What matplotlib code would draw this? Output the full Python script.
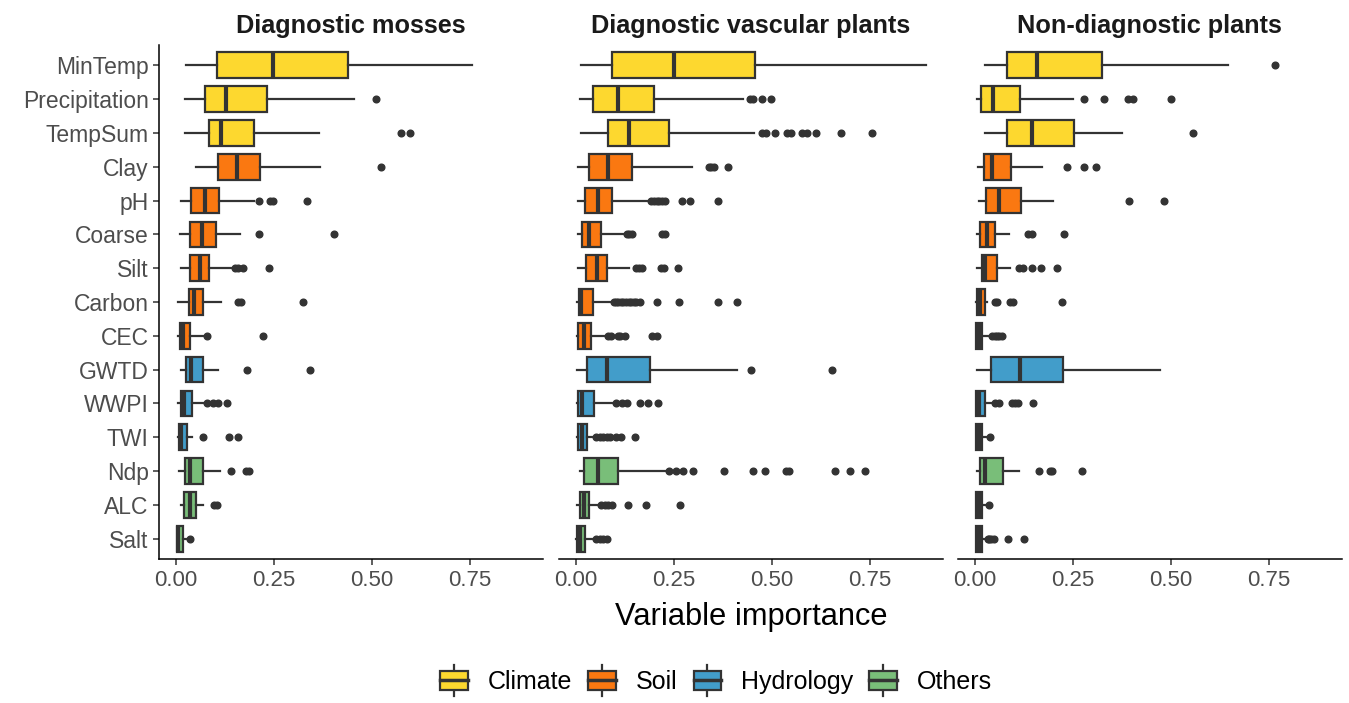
import matplotlib
matplotlib.use("Agg")
import matplotlib.pyplot as plt
from matplotlib.patches import Rectangle
from matplotlib.lines import Line2D
from matplotlib.legend_handler import HandlerBase

plt.rcParams['font.family'] = ['Liberation Sans', 'DejaVu Sans']

variables = ["MinTemp", "Precipitation", "TempSum", "Clay", "pH", "Coarse", "Silt",
             "Carbon", "CEC", "GWTD", "WWPI", "TWI", "Ndp", "ALC", "Salt"]
groups = ["Climate"] * 3 + ["Soil"] * 6 + ["Hydrology"] * 3 + ["Others"] * 3
group_names = ["Climate", "Soil", "Hydrology", "Others"]
group_colors = {"Climate": "#FDD82F", "Soil": "#FA7811",
                "Hydrology": "#429DCA", "Others": "#79BE79"}
panel_titles = ["Diagnostic mosses", "Diagnostic vascular plants", "Non-diagnostic plants"]

# Diagnostic mosses
moss_whislo = [0.026, 0.023, 0.023, 0.051, 0.012, 0.010, 0.014, 0.006, 0.006, 0.014, 0.006, 0.006, 0.008, 0.012, 0.002]
moss_q1 = [0.104, 0.075, 0.083, 0.106, 0.038, 0.037, 0.037, 0.033, 0.010, 0.026, 0.012, 0.008, 0.024, 0.020, 0.002]
moss_med = [0.247, 0.128, 0.116, 0.156, 0.075, 0.066, 0.060, 0.045, 0.019, 0.038, 0.021, 0.014, 0.037, 0.036, 0.006]
moss_q3 = [0.440, 0.232, 0.200, 0.214, 0.109, 0.102, 0.084, 0.068, 0.037, 0.068, 0.040, 0.027, 0.068, 0.051, 0.019]
moss_whishi = [0.756, 0.453, 0.366, 0.368, 0.199, 0.163, 0.150, 0.115, 0.070, 0.106, 0.070, 0.040, 0.112, 0.070, 0.028]
moss_out = [[], [0.511], [0.575, 0.597], [0.522], [0.213, 0.241, 0.248, 0.333],
            [0.212, 0.403], [0.151, 0.159, 0.170, 0.237], [0.157, 0.165, 0.325],
            [0.080, 0.221], [0.182, 0.342], [0.078, 0.095, 0.108, 0.131],
            [0.068, 0.136, 0.157], [0.140, 0.179, 0.187], [0.097, 0.104], [0.037]]

# Diagnostic vascular plants
vasc_whislo = [0.012, 0.010, 0.013, 0.006, 0.004, 0.004, 0.006, 0.002, 0.002, 0.003, 0.002, 0.002, 0.009, 0.002, 0.001]
vasc_q1 = [0.093, 0.043, 0.081, 0.033, 0.023, 0.016, 0.026, 0.007, 0.004, 0.027, 0.005, 0.004, 0.020, 0.009, 0.002]
vasc_med = [0.250, 0.106, 0.136, 0.081, 0.055, 0.033, 0.053, 0.013, 0.021, 0.080, 0.016, 0.016, 0.055, 0.020, 0.010]
vasc_q3 = [0.457, 0.200, 0.237, 0.144, 0.091, 0.064, 0.078, 0.044, 0.038, 0.188, 0.046, 0.027, 0.108, 0.034, 0.024]
vasc_whishi = [0.892, 0.425, 0.455, 0.295, 0.189, 0.121, 0.136, 0.091, 0.078, 0.411, 0.100, 0.048, 0.236, 0.061, 0.048]
vasc_out = [[], [0.444, 0.452, 0.474, 0.497],
            [0.474, 0.485, 0.507, 0.537, 0.548, 0.576, 0.589, 0.612, 0.676, 0.754],
            [0.338, 0.345, 0.352, 0.387],
            [0.191, 0.198, 0.206, 0.213, 0.219, 0.226, 0.270, 0.291, 0.361],
            [0.129, 0.135, 0.142, 0.219, 0.226],
            [0.153, 0.160, 0.168, 0.217, 0.225, 0.259],
            [0.096, 0.102, 0.108, 0.115, 0.121, 0.128, 0.134, 0.141, 0.147, 0.154, 0.162,
             0.206, 0.262, 0.363, 0.410],
            [0.082, 0.090, 0.107, 0.113, 0.126, 0.193, 0.206],
            [0.446, 0.652],
            [0.103, 0.117, 0.130, 0.163, 0.184, 0.209],
            [0.052, 0.061, 0.069, 0.078, 0.086, 0.103, 0.116, 0.150],
            [0.236, 0.256, 0.273, 0.298, 0.378, 0.451, 0.483, 0.536, 0.544, 0.661, 0.700, 0.738],
            [0.065, 0.074, 0.082, 0.091, 0.132, 0.179, 0.265],
            [0.052, 0.061, 0.069, 0.078]]

# Non-diagnostic plants
nond_whislo = [0.026, 0.004, 0.026, 0.007, 0.011, 0.004, 0.006, 0.003, 0.002, 0.004, 0.002, 0.002, 0.006, 0.002, 0.002]
nond_q1 = [0.082, 0.015, 0.082, 0.023, 0.028, 0.014, 0.017, 0.004, 0.002, 0.040, 0.003, 0.002, 0.013, 0.002, 0.002]
nond_med = [0.157, 0.047, 0.145, 0.044, 0.060, 0.030, 0.026, 0.014, 0.009, 0.115, 0.011, 0.009, 0.026, 0.009, 0.009]
nond_q3 = [0.325, 0.115, 0.253, 0.093, 0.117, 0.051, 0.057, 0.026, 0.017, 0.224, 0.026, 0.019, 0.071, 0.017, 0.019]
nond_whishi = [0.645, 0.249, 0.374, 0.170, 0.200, 0.087, 0.089, 0.031, 0.032, 0.472, 0.043, 0.030, 0.111, 0.027, 0.028]
nond_out = [[0.764], [0.279, 0.330, 0.391, 0.404, 0.500], [0.557], [0.234, 0.278, 0.308],
            [0.392, 0.481], [0.136, 0.145, 0.227], [0.112, 0.123, 0.146, 0.168, 0.208],
            [0.051, 0.055, 0.090, 0.098, 0.222], [0.043, 0.050, 0.055, 0.062, 0.070], [],
            [0.051, 0.060, 0.094, 0.102, 0.110, 0.149], [0.038],
            [0.162, 0.192, 0.196, 0.273], [0.036],
            [0.032, 0.036, 0.040, 0.049, 0.084, 0.124]]

panels = [
    (moss_whislo, moss_q1, moss_med, moss_q3, moss_whishi, moss_out),
    (vasc_whislo, vasc_q1, vasc_med, vasc_q3, vasc_whishi, vasc_out),
    (nond_whislo, nond_q1, nond_med, nond_q3, nond_whishi, nond_out),
]

DARK = "#333333"
W, H = 1349, 703
fig = plt.figure(figsize=(W / 100, H / 100), dpi=100)

ax_left = [158.5, 558.5, 957.5]
ax_w = 384.7
ax_top, ax_bot = 45, 559

positions = list(range(1, len(variables) + 1))
for i, (wlo, q1, med, q3, whi, out) in enumerate(panels):
    ax = fig.add_axes([ax_left[i] / W, 1 - ax_bot / H, ax_w / W, (ax_bot - ax_top) / H])
    stats = []
    for j in range(len(variables)):
        stats.append(dict(whislo=wlo[j], q1=q1[j], med=med[j], q3=q3[j],
                          whishi=whi[j], fliers=out[j]))
    bp = ax.bxp(stats, positions=positions, orientation='horizontal', widths=0.76,
                patch_artist=True, showcaps=False,
                boxprops=dict(edgecolor=DARK, linewidth=1.6),
                whiskerprops=dict(color=DARK, linewidth=1.6),
                medianprops=dict(color=DARK, linewidth=3.0, solid_capstyle='butt'),
                flierprops=dict(marker='o', markerfacecolor=DARK, markeredgecolor=DARK,
                                markersize=4.8, linestyle='none'))
    for box, g in zip(bp['boxes'], groups):
        box.set_facecolor(group_colors[g])
    ax.set_xlim(-0.0446, 0.9366)
    ax.set_ylim(len(variables) + 0.6, 0.4)
    ax.set_xticks([0, 0.25, 0.5, 0.75])
    ax.set_xticklabels(["0.00", "0.25", "0.50", "0.75"])
    for s in ["top", "right"]:
        ax.spines[s].set_visible(False)
    ax.spines["bottom"].set_linewidth(1.1)
    ax.spines["left"].set_linewidth(1.1)
    ax.tick_params(axis='x', length=4, width=1.1, color=DARK, labelsize=16,
                   labelcolor="#4D4D4D", pad=4)
    if i == 0:
        ax.set_yticks(positions)
        ax.set_yticklabels(variables)
        ax.tick_params(axis='y', length=4, width=1.1, color=DARK, labelsize=16.5,
                       labelcolor="#4D4D4D", pad=3)
    else:
        ax.spines["left"].set_visible(False)
        ax.set_yticks([])
    ax.set_title(panel_titles[i], fontsize=18.2, fontweight='bold', pad=9, color="#1A1A1A")

fig.text(751 / W, 1 - 617 / H, "Variable importance", ha='center', va='center', fontsize=22.2)


class BoxKey(HandlerBase):
    def create_artists(self, legend, orig_handle, xdescent, ydescent, width, height,
                       fontsize, trans):
        color = orig_handle.get_facecolor()
        cx = width / 2 - xdescent
        cy = height / 2 - ydescent
        bh = height * 1.0
        rect = Rectangle((-xdescent, cy - bh / 2), width, bh, facecolor=color,
                         edgecolor=DARK, linewidth=1.6, transform=trans)
        med = Line2D([-xdescent, width - xdescent], [cy, cy], color=DARK, lw=2.5, transform=trans)
        top = Line2D([cx, cx], [cy + bh / 2, cy + bh * 0.8], color=DARK, lw=1.6, transform=trans)
        bot = Line2D([cx, cx], [cy - bh / 2, cy - bh * 0.8], color=DARK, lw=1.6, transform=trans)
        return [top, bot, rect, med]


handles = [Rectangle((0, 0), 1, 1, facecolor=group_colors[g]) for g in group_names]
fig.legend(handles, group_names, loc='center', bbox_to_anchor=(716 / W, 1 - 682 / H),
           ncol=4, frameon=False, fontsize=18, handlelength=1.1, handleheight=0.8,
           handletextpad=0.8, columnspacing=0.65, handler_map={Rectangle: BoxKey()})

fig.savefig("out.png", dpi=100)
